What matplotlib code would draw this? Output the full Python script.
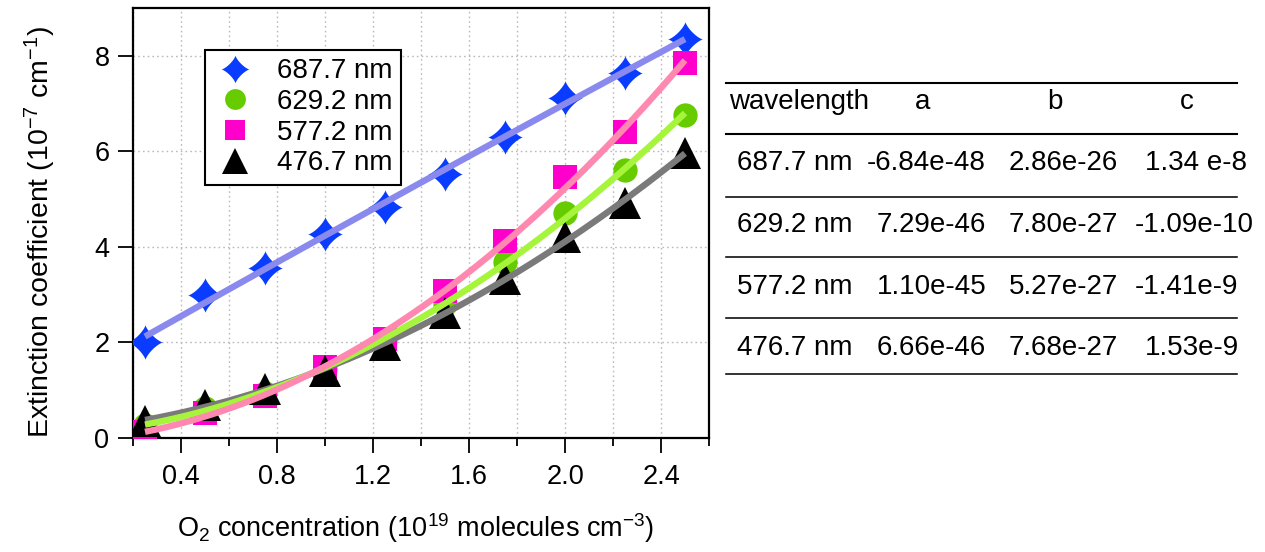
import numpy as np
import matplotlib
matplotlib.use("Agg")
import matplotlib.pyplot as plt
from matplotlib.path import Path
from matplotlib.lines import Line2D
from matplotlib.ticker import MultipleLocator, FormatStrFormatter

plt.rcParams['font.family'] = ['Liberation Sans', 'DejaVu Sans']
plt.rcParams['mathtext.fontset'] = 'custom'
plt.rcParams['mathtext.rm'] = 'Liberation Sans'
plt.rcParams['mathtext.it'] = 'Liberation Sans:italic'
plt.rcParams['mathtext.bf'] = 'Liberation Sans:bold'

# ---------------- data ----------------
conc = [0.25, 0.5, 0.75, 1.0, 1.25, 1.5, 1.75, 2.0, 2.25, 2.5]
ext_687 = [2.0, 3.0, 3.56, 4.28, 4.84, 5.53, 6.30, 7.12, 7.63, 8.35]
ext_629 = [0.28, 0.62, 0.95, 1.45, 2.02, 2.80, 3.69, 4.71, 5.61, 6.76]
ext_577 = [0.13, 0.52, 0.88, 1.48, 2.08, 3.08, 4.13, 5.46, 6.41, 7.85]
ext_476 = [0.36, 0.70, 1.02, 1.40, 1.95, 2.62, 3.33, 4.20, 4.92, 5.96]
labels = ["687.7 nm", "629.2 nm", "577.2 nm", "476.7 nm"]

table_header = ["wavelength", "a", "b", "c"]
table_wl = ["687.7 nm", "629.2 nm", "577.2 nm", "476.7 nm"]
table_a = ["-6.84e-48", "7.29e-46", "1.10e-45", "6.66e-46"]
table_b = ["2.86e-26", "7.80e-27", "5.27e-27", "7.68e-27"]
table_c = ["1.34 e-8", "-1.09e-10", "-1.41e-9", "1.53e-9"]

# ---------------- figure ----------------
W, H = 1265, 552
fig = plt.figure(figsize=(W / 100, H / 100), dpi=100)
ax = fig.add_axes([133 / W, 1 - 438 / H, (709 - 133) / W, (438 - 8) / H])

# 4-pointed star marker
t = np.linspace(0, 2 * np.pi, 161)
p = 2.6
sx = np.sign(np.cos(t)) * np.abs(np.cos(t)) ** p
sy = np.sign(np.sin(t)) * np.abs(np.sin(t)) ** p
star = Path(np.column_stack([sx, sy]), closed=True)

series = [
    (ext_687, star, 25, '#0a3cff', '#8a8aee'),
    (ext_629, 'o', 17.5, '#66cc00', '#a6f53c'),
    (ext_577, 's', 17.5, '#ff00cc', '#ff88b0'),
    (ext_476, '^', 23.5, '#000000', '#7a7a7a'),
]

x = np.array(conc)
xf = np.linspace(conc[0], conc[-1], 200)
for i, (yv, mk, ms, mc, lc) in enumerate(series):
    ax.plot(x, yv, linestyle='none', marker=mk, markersize=ms,
            markerfacecolor=mc, markeredgewidth=0, zorder=3 + (i == 3))
order = [3, 1, 2, 0]
for i in order:
    yv, mk, ms, mc, lc = series[i]
    coef = np.polyfit(x, yv, 2)
    ax.plot(xf, np.polyval(coef, xf), color=lc, lw=4.6,
            solid_capstyle='butt', zorder=5 + (i == 0))

ax.set_xlim(0.2, 2.6)
ax.set_ylim(0, 9)
ax.xaxis.set_major_locator(MultipleLocator(0.4))
ax.xaxis.set_minor_locator(MultipleLocator(0.2))
ax.xaxis.set_major_formatter(FormatStrFormatter('%.1f'))
ax.yaxis.set_major_locator(MultipleLocator(2))
ax.tick_params(axis='both', which='major', direction='out', length=11,
               width=1.3, labelsize=19.5, color='black')
ax.tick_params(axis='x', which='major', pad=8)
ax.tick_params(axis='y', which='major', pad=6)
ax.tick_params(axis='x', which='minor', direction='out', length=5.5, width=1.3)
ax.tick_params(top=False, right=False, which='both')
for s in ax.spines.values():
    s.set_linewidth(1.6)

ax.grid(True, which='both', axis='x', linestyle=(0, (1.2, 2.2)),
        color='#bbbbbb', lw=1.0)
ax.grid(True, which='major', axis='y', linestyle=(0, (1.2, 2.2)),
        color='#bbbbbb', lw=1.0)
ax.set_axisbelow(True)

fig.text(416 / W, 1 - 528 / H,
         r'O$_2$ concentration (10$^{19}$ molecules cm$^{-3}$)',
         ha='center', va='center', fontsize=19.5)
fig.text(40 / W, 1 - 232 / H,
         r'Extinction coefficient (10$^{-7}$ cm$^{-1}$)',
         ha='center', va='center', rotation=90, fontsize=20.5)

# legend
handles = []
leg_ms = [20, 15, 14.5, 19]
for (yv, mk, ms, mc, lc), lms in zip(series, leg_ms):
    handles.append(Line2D([], [], linestyle='none', marker=mk, markersize=lms,
                          markerfacecolor=mc, markeredgewidth=0))
leg = ax.legend(handles, labels, loc='upper left',
                bbox_to_anchor=((205 - 133) / 576, (438 - 50) / 430),
                fontsize=20, frameon=True, fancybox=False, framealpha=1,
                edgecolor='black', borderpad=0.3, labelspacing=0.17,
                handletextpad=0.75, handlelength=1.55, borderaxespad=0)
leg.get_frame().set_linewidth(1.5)
leg.set_zorder(10)

# table
line_ys = [83, 134, 197, 257, 318, 374]
line_w = [2.0, 2.0, 1.5, 1.5, 1.5, 1.5]
for yy, lw in zip(line_ys, line_w):
    fig.add_artist(Line2D([726 / W, 1237 / W], [1 - yy / H, 1 - yy / H],
                          color='black', lw=lw * 0.75))

fs_t = 20
hy = 1 - 102 / H
fig.text(729 / W, hy, table_header[0], ha='left', va='center', fontsize=fs_t)
fig.text(923 / W, hy, table_header[1], ha='center', va='center', fontsize=fs_t)
fig.text(1055 / W, hy, table_header[2], ha='center', va='center', fontsize=fs_t)
fig.text(1187 / W, hy, table_header[3], ha='center', va='center', fontsize=fs_t)

row_ys = [163, 225, 287, 348]
col_x = [877, 1009, 1145]       # left edge of the leading digit
minus_w = 10                    # a leading minus sign hangs to the left
for r, yy in enumerate(row_ys):
    fy = 1 - yy / H
    fig.text(737 / W, fy, table_wl[r], ha='left', va='center', fontsize=fs_t)
    for cx, col in zip(col_x, [table_a, table_b, table_c]):
        s = col[r]
        xx = cx - (minus_w if s.startswith('-') else 0)
        fig.text(xx / W, fy, s, ha='left', va='center', fontsize=fs_t)

fig.savefig('out.png', dpi=100)
